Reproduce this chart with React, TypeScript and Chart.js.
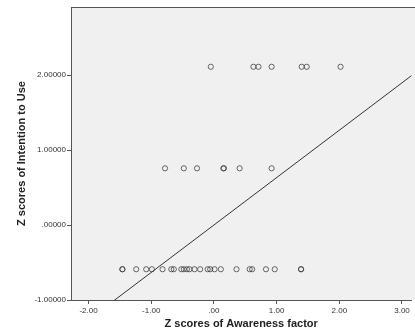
import React, { useEffect, useRef } from "react";
import { Chart, registerables } from "chart.js";

Chart.register(...registerables);

// Z scores of Awareness factor, grouped by Intention-to-Use level
const awarenessHigh = [-0.05, 0.63, 0.71, 0.92, 1.4, 1.48, 2.02];
const awarenessMid = [-0.78, -0.48, -0.27, 0.15, 0.16, 0.41, 0.92];
const awarenessLow = [
  -1.46, -1.46, -1.24, -1.08, -0.99, -0.82, -0.68, -0.64, -0.52, -0.48, -0.43,
  -0.39, -0.31, -0.22, -0.1, -0.06, 0.01, 0.11, 0.36, 0.57, 0.61, 0.83, 0.97,
  1.39, 1.39,
];
// Z scores of Intention to Use for each group
const intentionLevels = [2.11, 0.756, -0.59];

// fit line (total)
const fitSlope = 0.632;
const fitIntercept = 0;
const fitXRange = [-1.7, 3.4];

const xTicks = [-2, -1, 0, 1, 2, 3];
const yTicks = [-1, 0, 1, 2];
const xRange = [-2.28, 3.15];
const yRange = [-1, 2.907];

const xTitle = "Z scores of Awareness factor";
const yTitle = "Z scores of Intention to Use";

function fmt(v: number, d: number): string {
  let s = Math.abs(v).toFixed(d);
  if (s.startsWith("0")) s = s.slice(1);
  return (v < 0 ? "-" : "") + s;
}

const plotBg = {
  id: "plotBg",
  beforeDraw(chart: any) {
    const { ctx, chartArea } = chart;
    if (!chartArea) return;
    ctx.save();
    ctx.fillStyle = "#f0f0f0";
    ctx.fillRect(
      chartArea.left,
      chartArea.top,
      chart.width - chartArea.left,
      chartArea.bottom - chartArea.top
    );
    ctx.restore();
  },
  afterDraw(chart: any) {
    const { ctx, chartArea } = chart;
    if (!chartArea) return;
    ctx.save();
    ctx.strokeStyle = "#555555";
    ctx.lineWidth = 1;
    ctx.beginPath();
    ctx.moveTo(chartArea.left, Math.round(chartArea.top) + 0.5);
    ctx.lineTo(chart.width, Math.round(chartArea.top) + 0.5);
    ctx.stroke();
    ctx.restore();
  },
};

export default function App() {
  const ref = useRef<HTMLCanvasElement | null>(null);

  useEffect(() => {
    if (!ref.current) return;
    const groups = [awarenessHigh, awarenessMid, awarenessLow];
    const points: { x: number; y: number }[] = [];
    groups.forEach((xs, gi) => {
      xs.forEach((x) => points.push({ x, y: intentionLevels[gi] }));
    });
    const fitPoints = fitXRange.map((x) => ({ x, y: fitIntercept + fitSlope * x }));

    const tickFontY = { family: "'Liberation Sans', Arial, sans-serif", size: 8 };
    const tickFontX = {
      family: "'Liberation Sans Narrow', 'Liberation Sans', Arial, sans-serif",
      size: 8,
    };
    const titleFont = {
      family: "'Liberation Sans', Arial, sans-serif",
      size: 11,
      weight: "bold",
    };

    const chart = new Chart(ref.current, {
      type: "scatter",
      data: {
        datasets: [
          {
            type: "scatter",
            data: points,
            pointStyle: "circle",
            pointRadius: 2.6,
            pointHoverRadius: 2.6,
            borderWidth: 1,
            borderColor: "rgba(55,55,55,0.75)",
            backgroundColor: "rgba(0,0,0,0)",
          } as any,
          {
            type: "line",
            data: fitPoints,
            borderColor: "#333333",
            borderWidth: 1,
            pointRadius: 0,
            fill: false,
            tension: 0,
          } as any,
        ],
      },
      options: {
        animation: false,
        responsive: true,
        maintainAspectRatio: false,
        layout: { padding: { top: 7, right: 0, left: 0, bottom: 0 } },
        plugins: {
          legend: { display: false },
          tooltip: { enabled: false },
        },
        scales: {
          x: {
            type: "linear",
            min: xRange[0],
            max: xRange[1],
            afterBuildTicks: (s: any) => {
              s.ticks = xTicks.map((v) => ({ value: v }));
            },
            afterFit: (s: any) => {
              s.height = 33;
            },
            grid: {
              drawOnChartArea: false,
              drawTicks: true,
              tickLength: 4,
              color: "#555555",
            },
            border: { display: true, color: "#555555" },
            ticks: {
              padding: 2,
              font: tickFontX,
              color: "#333333",
              maxRotation: 0,
              autoSkip: false,
              callback: (v: any) => fmt(Number(v), 2),
            },
            title: {
              display: true,
              text: xTitle,
              color: "#222222",
              font: titleFont,
              padding: { top: 0, bottom: 2 },
            },
          },
          y: {
            type: "linear",
            min: yRange[0],
            max: yRange[1],
            afterBuildTicks: (s: any) => {
              s.ticks = yTicks.map((v) => ({ value: v }));
            },
            afterFit: (s: any) => {
              s.width = 71;
            },
            grid: {
              drawOnChartArea: false,
              drawTicks: true,
              tickLength: 4,
              color: "#555555",
            },
            border: { display: true, color: "#555555" },
            ticks: {
              padding: 1,
              font: tickFontY,
              color: "#333333",
              autoSkip: false,
              callback: (v: any) => fmt(Number(v), 5),
            },
            title: {
              display: true,
              text: yTitle,
              color: "#222222",
              font: titleFont,
              padding: { top: 15, bottom: 0 },
            },
          },
        },
      } as any,
      plugins: [plotBg],
    });
    return () => chart.destroy();
  }, []);

  return (
    <div
      style={{
        position: "fixed",
        left: 0,
        top: 0,
        width: 415,
        height: 333,
        background: "#ffffff",
      }}
    >
      <canvas ref={ref} />
    </div>
  );
}
